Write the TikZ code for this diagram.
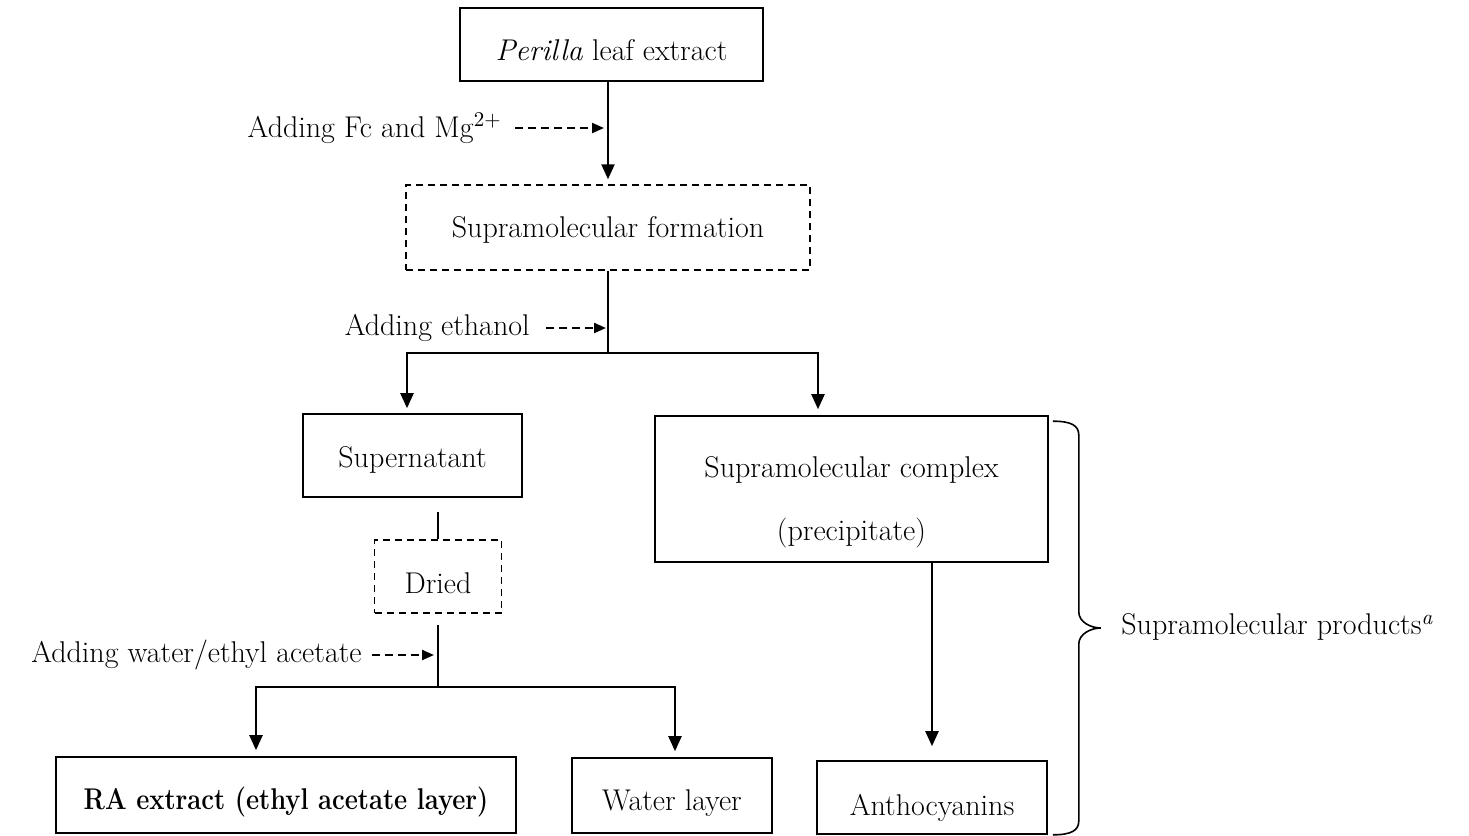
\documentclass[tikz,border=0pt]{standalone}
\usepackage{amsmath}
\usetikzlibrary{arrows.meta,positioning,calc}

\tikzset{
	stage/.style 2 args={draw,line width=0.8pt,inner sep=0pt,align=center,minimum width=#1,minimum height=#2},
	phase/.style 2 args={stage={#1}{#2},line width=0.7pt,dash pattern=on 3.5pt off 2.5pt},
	lift/.style={text height=#1,text depth=0.2em},
	note/.style={inner sep=0pt},
	flow/.style={->,line width=1.1pt},
	feed/.style={-{Triangle[width=5pt,length=6pt]},line width=1.1pt,dash pattern=on 4pt off 2.5pt},
	link/.style={line width=0.75pt}
}

\begin{document}
\begin{tikzpicture}[x=0.5pt,y=-0.5pt,every node/.style={font=\fontsize{15}{18}\selectfont},>={Triangle[width=6.5pt,length=7.5pt]}]
		\useasboundingbox (0,0) rectangle (1469,836);
		\node[stage={151.5pt}{36.5pt},lift=1.8em] (leaf) at (611.5,44.5) {\textit{Perilla} leaf extract};
		\node[phase={202pt}{42.5pt},lift=1.17em] (form) at (608,227.5) {Supramolecular formation};
		\node[stage={109.5pt}{41.5pt},lift=1.43em] (super) at (412.5,455.5) {Supernatant};
		\node[stage={196.5pt}{73pt},text height=55.5pt,execute at begin node=\setlength{\baselineskip}{2.1em}] (complex) at (851.5,489) {Supramolecular complex\\(precipitate)};
		\node[phase={63.5pt}{36.5pt},lift=1.9em] (dried) at (438,576.5) {Dried};
		\node[stage={230pt}{38pt},lift=1.6em] (ra) at (286,795) {\scalebox{0.85}[1]{\bfseries RA extract (ethyl acetate layer)}};
		\node[stage={100pt}{37.5pt},lift=1.7em] (water) at (672,795.5) {Water layer};
		\node[stage={115pt}{36.5pt},lift=1.95em] (antho) at (932,797.5) {Anthocyanins};

		\node[note,anchor=east] (addfc) at (502,128) {Adding Fc and Mg\textsuperscript{2+}};
		\node[note,anchor=east] (addeth) at (530,328) {Adding ethanol};
		\node[note,anchor=east] (addwat) at (362,655) {Adding water/ethyl acetate};

		\coordinate (fork) at (608,353);
		\coordinate (fork2) at (438,687);

		\draw[flow,shorten >=2.5pt] (form.north |- leaf.south) -- (form.north);
		\draw[feed,shorten <=6.5pt,shorten >=2pt] (addfc.east) -- (addfc.east -| form.north);
		\draw[line width=1.1pt] (form.south) -- (fork);
		\draw[feed,shorten <=8pt,shorten >=1pt] (addeth.east) -- (addeth.east -| fork);
		\draw[flow,shorten >=2.5pt] (fork) -| ([xshift=-2.75pt]super.north);
		\draw[flow,shorten >=3pt] (fork) -| ([xshift=-16.75pt]complex.north);
		\draw[link,shorten >=7pt] (dried.north) -- (dried.north |- super.south);
		\draw[link,shorten <=5.5pt] (dried.south) -- (fork2);
		\draw[feed,shorten <=5pt,shorten >=2pt] (addwat.east) -- (addwat.east -| fork2);
		\draw[flow,shorten >=3pt] (fork2) -| ([xshift=-15pt]ra.north);
		\draw[flow,shorten >=3pt] (fork2) -| ([xshift=1.5pt]water.north);
		\draw[flow,shorten >=7pt] (complex.south -| antho.north) -- (antho.north);

		\coordinate (btop) at ([shift={(4,6)}]complex.north east);
		\coordinate (bbot) at (btop |- antho.south);
		\coordinate (bmid) at ($(btop)!0.5!(bbot)$);
		\draw[line width=0.8pt] (btop) .. controls +(18,0) and +(0,-10) .. ($(btop)+(26,14)$) -- ($(bmid)+(26,-16)$) .. controls +(0,10) and +(-10,0) .. ($(bmid)+(48,0)$) .. controls +(-10,0) and +(0,-10) .. ($(bmid)+(26,16)$) -- ($(bbot)+(26,-14)$) .. controls +(0,10) and +(18,0) .. (bbot);
		\node[note,anchor=west] (products) at (1121,627) {Supramolecular products\textsuperscript{\textit{a}}};
		\end{tikzpicture}
\end{document}
